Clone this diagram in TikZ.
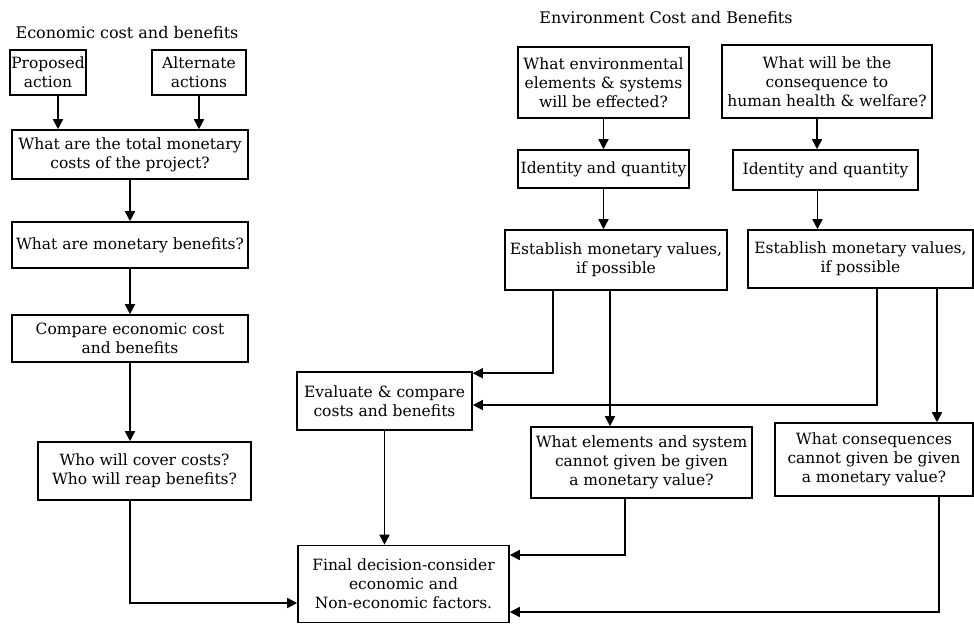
\documentclass[tikz,border=0pt]{standalone}
\usepackage{fontspec}
\setmainfont{DejaVu Serif}
\usepackage{tikz}
\usetikzlibrary{arrows.meta, positioning, calc}

\begin{document}
\begin{tikzpicture}[x=1pt, y=-1pt,
  box/.style={rectangle, draw, line width=1.6pt, align=center, inner sep=1pt,
    font=\fontsize{15.5}{19}\selectfont},
  ttl/.style={font=\fontsize{16}{19}\selectfont},
  arr/.style={-{Triangle[length=10pt, width=10pt]}, line width=1.6pt}
]
  \useasboundingbox (0,0) rectangle (974,625);

  % economic side
  \node[ttl] (econ) at (127,33) {Economic cost and benefits};
  \node[box, minimum width=76, minimum height=45] (prop) at (48,72.5) {Proposed\\action};
  \node[box, minimum width=94, minimum height=45] (alt) at (199,72.5) {Alternate\\actions};
  \node[box, minimum width=236, minimum height=49] (total) at (130,154.5) {What are the total monetary\\costs of the project?};
  \node[box, minimum width=236, minimum height=46] (benef) at (130,245) {What are monetary benefits?};
  \node[box, minimum width=236, minimum height=47] (compare) at (130,338.5) {Compare economic cost\\and benefits};
  \node[box, minimum width=213, minimum height=58] (who) at (144.5,471) {Who will cover costs?\\Who will reap benefits?};

  % environmental side
  \node[ttl] (env) at (666,18) {Environment Cost and Benefits};
  \node[box, minimum width=171, minimum height=71] (envel) at (603.5,82.5) {What environmental\\elements \& systems\\will be effected?};
  \node[box, minimum width=210, minimum height=73] (health) at (827,81.5) {What will be the\\consequence to\\human health \& welfare?};
  \node[box, minimum width=171, minimum height=38] (ident1) at (603.5,169) {Identity and quantity};
  \node[box, minimum width=185, minimum height=40] (ident2) at (825.5,170) {Identity and quantity};
  \node[box, minimum width=222, minimum height=60] (estab1) at (616,260) {Establish monetary values,\\if possible};
  \node[box, minimum width=225, minimum height=58] (estab2) at (860.5,259) {Establish monetary values,\\if possible};
  \node[box, minimum width=221, minimum height=71] (elem) at (641.5,462.5) {What elements and system\\cannot given be given\\a monetary value?};
  \node[box, minimum width=198, minimum height=73] (conseq) at (874,459.5) {What consequences\\cannot given be given\\a monetary value?};

  % joint boxes
  \node[box, minimum width=175, minimum height=58] (evaluate) at (384.5,401) {Evaluate \& compare\\costs and benefits};
  \node[box, minimum width=211, minimum height=77] (final) at (403.5,584) {Final decision-consider\\economic and\\Non-economic factors.};

  \draw[arr] ([xshift=10pt]prop.south) -- ([xshift=10pt]prop.south |- total.north);
  \draw[arr] (alt.south) -- (alt.south |- total.north);
  \draw[arr] (total) -- (benef);
  \draw[arr] (benef) -- (compare);
  \draw[arr] (compare.south) -- (compare.south |- who.north);
  \draw[arr] (compare.south |- who.south) |- ([yshift=-19pt]final.west);
  \draw[arr] (evaluate.south) -- (evaluate.south |- final.north);

  \draw[arr] (envel) -- (ident1);
  \draw[arr] ([xshift=-10pt]health.south) -- ([xshift=-10pt]health.south |- ident2.north);
  \draw[arr] (ident1.south) -- (ident1.south |- estab1.north);
  \draw[arr] ([xshift=-8pt]ident2.south) -- ([xshift=-8pt]ident2.south |- estab2.north);
  \draw[arr] ([xshift=-63pt]estab1.south) |- ([yshift=-2pt]evaluate.north east);
  \draw[arr] ([xshift=-6pt]estab1.south) -- ([xshift=-6pt]estab1.south |- elem.north);
  \draw[arr] ([xshift=16.5pt]estab2.south) |- ([yshift=-4pt]evaluate.east);
  \draw[arr] ([xshift=76.5pt]estab2.south) -- ([xshift=76.5pt]estab2.south |- conseq.north);
  \draw[arr] ([xshift=-16.5pt]elem.south) |- ([yshift=29pt]final.east);
  \draw[arr] ([xshift=65pt]conseq.south) |- ([yshift=-28pt]final.east);
\end{tikzpicture}
\end{document}
